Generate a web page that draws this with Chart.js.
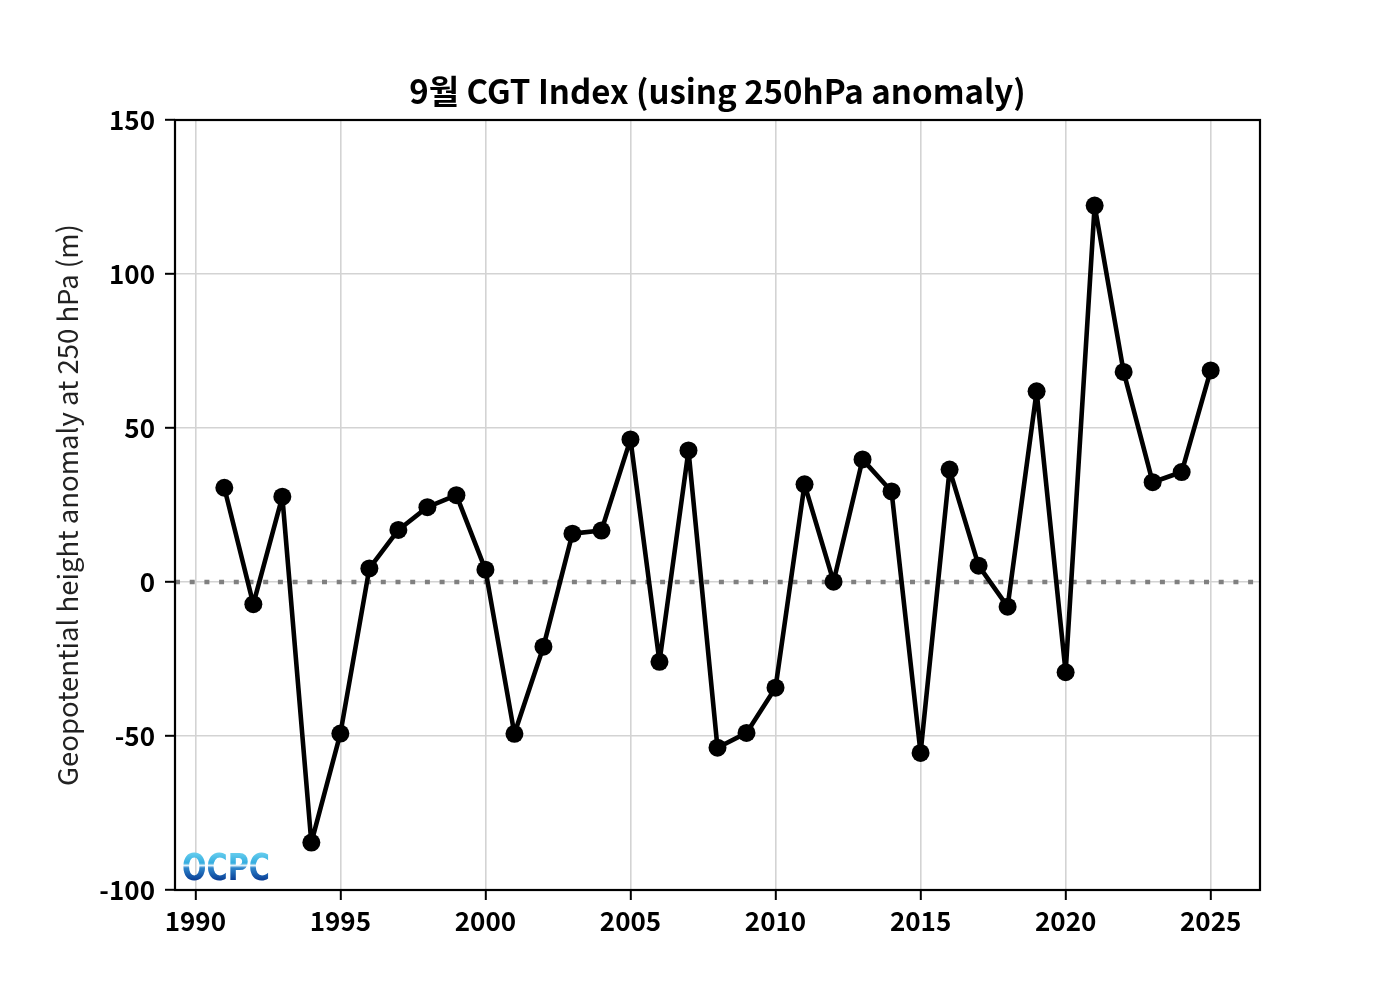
<!DOCTYPE html>
<html>
<head>
<meta charset="utf-8">
<title>CGT Index</title>
<script src="https://cdn.jsdelivr.net/npm/chart.js@4/dist/chart.umd.min.js"></script>
<style>
  html, body { margin: 0; padding: 0; background: #fff; }
  #wrap { width: 1400px; height: 1000px; }
</style>
</head>
<body>
<div id="wrap"><canvas id="cgt" width="1400" height="1000"></canvas></div>
<script>
// 9월 CGT Index, 250hPa 지위고도 편차 (m)
const years = [
  1991, 1992, 1993, 1994, 1995, 1996, 1997, 1998, 1999, 2000,
  2001, 2002, 2003, 2004, 2005, 2006, 2007, 2008, 2009, 2010,
  2011, 2012, 2013, 2014, 2015, 2016, 2017, 2018, 2019, 2020,
  2021, 2022, 2023, 2024, 2025
];
const anomaly = [
  30.6, -7.2, 27.7, -84.6, -49.2, 4.4, 16.9, 24.3, 28.2, 4.0,
  -49.3, -21.0, 15.7, 16.7, 46.3, -25.9, 42.7, -53.8, -49.0, -34.3,
  31.7, 0.1, 39.8, 29.4, -55.5, 36.5, 5.3, -8.0, 61.9, -29.3,
  122.2, 68.2, 32.4, 35.7, 68.7
];
const xTicks = [1990, 1995, 2000, 2005, 2010, 2015, 2020, 2025];
const yTicks = [-100, -50, 0, 50, 100, 150];

const titleText = "9월 CGT Index (using 250hPa anomaly)";
const yTitle = "Geopotential height anomaly at 250 hPa (m)";
const logoText = "OCPC";

const FONT = "'Noto Sans CJK KR', 'Noto Sans', sans-serif";

// 0선 (회색 점선)
const zeroLine = {
  id: "zeroLine",
  beforeDatasetsDraw(chart) {
    const { ctx, chartArea, scales } = chart;
    const y = scales.y.getPixelForValue(0);
    ctx.save();
    ctx.strokeStyle = "#808080";
    ctx.lineWidth = 4.5;
    ctx.setLineDash([5, 9.7]);
    ctx.beginPath();
    ctx.moveTo(chartArea.left, y);
    ctx.lineTo(chartArea.right, y);
    ctx.stroke();
    ctx.restore();
  }
};

// 제목(플롯 영역 중앙), 테두리, 로고
const frameAndLogo = {
  id: "frameAndLogo",
  afterDraw(chart) {
    const { ctx, chartArea } = chart;
    ctx.save();
    ctx.fillStyle = "#000";
    ctx.font = "bold 33px " + FONT;
    ctx.textAlign = "center";
    ctx.textBaseline = "middle";
    ctx.fillText(titleText, (chartArea.left + chartArea.right) / 2, chartArea.top - 29);

    ctx.strokeStyle = "#000";
    ctx.lineWidth = 2.2;
    ctx.strokeRect(chartArea.left, chartArea.top,
      chartArea.right - chartArea.left, chartArea.bottom - chartArea.top);

    const lx = chartArea.left + 7;
    const lb = chartArea.bottom - 10;
    ctx.font = "bold 38px 'DejaVu Sans', sans-serif";
    ctx.textAlign = "left";
    ctx.textBaseline = "alphabetic";
    const w = ctx.measureText(logoText).width;
    const grad = ctx.createLinearGradient(0, -29, 0, 0);
    grad.addColorStop(0, "#6fd3f0");
    grad.addColorStop(0.42, "#34ade0");
    grad.addColorStop(0.5, "#dff1fa");
    grad.addColorStop(0.58, "#2e86cc");
    grad.addColorStop(1, "#0a3f96");
    ctx.translate(lx, lb);
    ctx.scale(88 / w, 1);
    ctx.fillStyle = grad;
    ctx.fillText(logoText, 0, 0);
    ctx.restore();
  }
};

new Chart(document.getElementById("cgt"), {
  type: "line",
  data: {
    datasets: [{
      data: years.map((yr, i) => ({ x: yr, y: anomaly[i] })),
      borderColor: "#000",
      backgroundColor: "#000",
      borderWidth: 4.6,
      borderJoinStyle: "round",
      borderCapStyle: "round",
      pointRadius: 9,
      pointHoverRadius: 9,
      pointBorderWidth: 0,
      tension: 0
    }]
  },
  options: {
    responsive: false,
    animation: false,
    devicePixelRatio: 1,
    layout: { padding: { left: 0, right: 140, top: 120, bottom: 0 } },
    plugins: {
      legend: { display: false },
      tooltip: { enabled: false },
      title: { display: false }
    },
    scales: {
      x: {
        type: "linear",
        min: 1989.3,
        max: 2026.7,
        afterBuildTicks: s => { s.ticks = xTicks.map(v => ({ value: v })); },
        afterFit: s => { s.height = 110; },
        grid: { color: "#d3d3d3", lineWidth: 1.6, tickColor: "#000", tickLength: 10, tickWidth: 2 },
        border: { display: false },
        ticks: {
          color: "#000",
          padding: 6,
          maxRotation: 0,
          font: { family: FONT, size: 26, weight: "bold" },
          callback: v => String(v)
        }
      },
      y: {
        min: -100,
        max: 150,
        afterBuildTicks: s => { s.ticks = yTicks.map(v => ({ value: v })); },
        afterFit: s => { s.width = 175; },
        grid: { color: "#d3d3d3", lineWidth: 1.6, tickColor: "#000", tickLength: 10, tickWidth: 2 },
        border: { display: false },
        title: {
          display: true,
          text: yTitle,
          color: "#222",
          font: { family: FONT, size: 27.5 },
          padding: { top: 51, bottom: 0 }
        },
        ticks: {
          color: "#000",
          padding: 10,
          font: { family: FONT, size: 26, weight: "bold" },
          callback: v => String(v)
        }
      }
    }
  },
  plugins: [zeroLine, frameAndLogo]
});
</script>
</body>
</html>
